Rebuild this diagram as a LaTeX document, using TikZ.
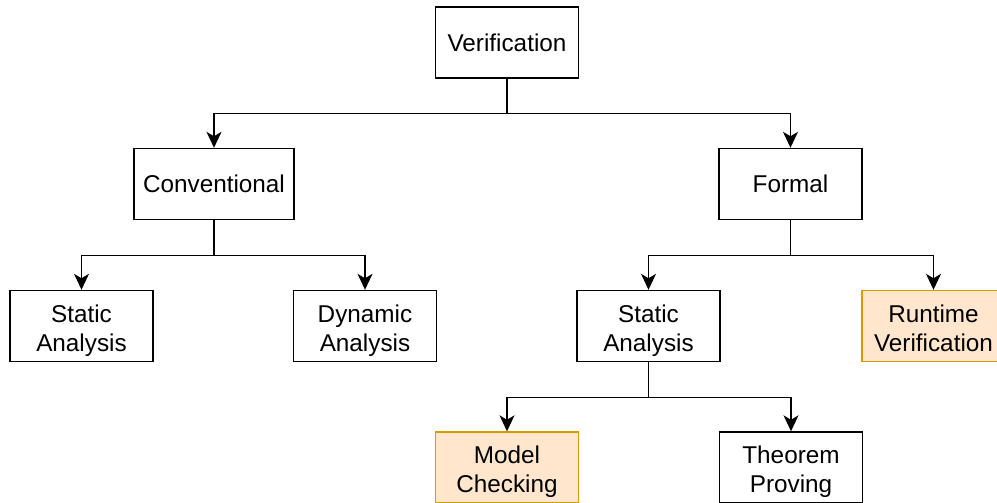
\documentclass[tikz,border=0pt]{standalone}
\usepackage{fontspec}
\setmainfont{Liberation Sans}
\usetikzlibrary{arrows.meta}
\definecolor{focusFill}{HTML}{FFE6CC}
\definecolor{focusDraw}{HTML}{D79B00}
\newcommand{\twoLines}[2]{\rule{0pt}{28pt}#1\\#2\rule[-7pt]{0pt}{7pt}}

\begin{document}
\begin{tikzpicture}[%%
  x=1pt,y=-1pt,%%
  boxStyle/.style={draw,line width=1.4pt,minimum width=143pt,minimum height=71pt,inner sep=0pt,align=center,font=\fontsize{24.3}{29}\selectfont},%%
  focusStyle/.style={boxStyle,draw=focusDraw,fill=focusFill},%%
  edgeStyle/.style={-{Stealth[length=16pt,width=15pt,inset=4.5pt]},line width=1.4pt}%%
]
%%
%%
\useasboundingbox (0,0) rectangle (997,503);
%% The root and its two kinds.
\node[boxStyle] (verif) at (507,42.5) {Verification};
\node[boxStyle,minimum width=160pt] (conv) at (214,184) {Conventional};
\node[boxStyle] (formal) at (790.5,184) {Formal};
%% The leaves of the conventional branch.
\node[boxStyle] (convStatic) at (81.5,326) {\twoLines{Static}{Analysis}};
\node[boxStyle] (convDynamic) at (365,326) {\twoLines{Dynamic}{Analysis}};
%% The leaves of the formal branch.
\node[boxStyle] (formalStatic) at (648.5,326) {\twoLines{Static}{Analysis}};
\node[focusStyle] (runtime) at (933.5,326) {\twoLines{Runtime}{Verification}};
\node[focusStyle] (model) at (507,467.5) {\twoLines{Model}{Checking}};
\node[boxStyle] (theorem) at (791,467.5) {\twoLines{Theorem}{Proving}};
%%
%%
%% Connect the tree.
\draw[edgeStyle] (verif.south) -- ++(0,35) -| (conv.north);
\draw[edgeStyle] (verif.south) -- ++(0,35) -| (formal.north);
\draw[edgeStyle] (conv.south) -- ++(0,35.5) -| (convStatic.north);
\draw[edgeStyle] (conv.south) -- ++(0,35.5) -| (convDynamic.north);
\draw[edgeStyle] (formal.south) -- ++(0,35.5) -| (formalStatic.north);
\draw[edgeStyle] (formal.south) -- ++(0,35.5) -| (runtime.north);
\draw[edgeStyle] (formalStatic.south) -- ++(0,35.5) -| (model.north);
\draw[edgeStyle] (formalStatic.south) -- ++(0,35.5) -| (theorem.north);
\end{tikzpicture}
\end{document}
